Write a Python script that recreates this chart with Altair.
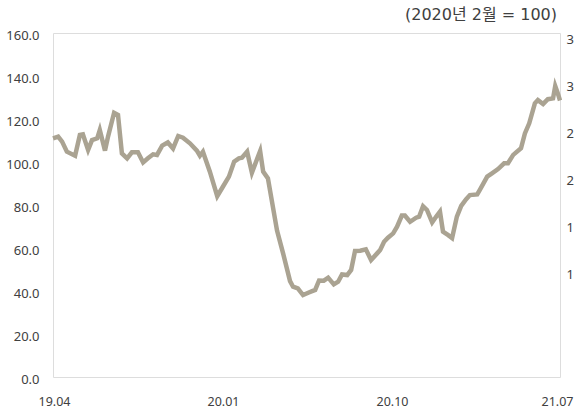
import altair as alt
import pandas as pd

# week index since 2019-04 (0 .. 117 = 2021-07) and index values (2020.02 = 100)
weeks = [0, 1.2, 2.1, 3.2, 5.1, 6.2, 6.9, 8.1, 9.0, 10.2, 10.8, 12.0, 12.7, 14.1, 15.0,
         15.9, 17.1, 18.2, 19.6, 20.8, 21.9, 23.1, 24.0, 25.2, 26.5, 27.7, 28.9, 30.0,
         31.6, 33.2, 33.9, 34.6, 36.2, 37.9, 39.2, 40.6, 41.8, 42.9, 43.6, 44.8, 45.9,
         47.8, 48.5, 49.6, 51.7, 53.1, 54.7, 55.4, 56.5, 57.7, 58.9, 60.5, 61.4, 62.5,
         63.5, 64.8, 65.8, 66.7, 67.9, 68.8, 69.7, 70.9, 72.2, 73.4, 74.8, 75.5, 76.4,
         77.3, 78.5, 79.4, 80.5, 81.2, 82.4, 83.8, 84.5, 85.4, 86.3, 87.5, 88.4, 89.3,
         90.0, 91.2, 92.1, 93.2, 94.2, 95.3, 96.2, 97.9, 98.5, 100.2, 101.3, 102.7,
         104.1, 105.0, 106.2, 108.0, 108.9, 109.9, 111.2, 111.9, 113.1, 114.2, 115.4,
         115.9, 116.5, 117]
values = [111.0, 111.8, 109.5, 104.8, 102.9, 112.6, 112.9, 105.6, 110.2, 111.0, 114.9,
          105.3, 111.8, 122.9, 121.9, 104.0, 101.7, 104.5, 104.5, 99.8, 101.7, 103.6,
          103.3, 107.6, 109.1, 106.3, 112.1, 111.3, 108.7, 105.3, 102.9, 104.8, 95.5,
          84.1, 88.5, 93.2, 100.1, 101.7, 102.0, 104.8, 95.0, 105.1, 95.5, 92.4, 68.1,
          57.5, 44.6, 42.0, 41.2, 38.1, 39.2, 40.5, 44.9, 44.8, 46.2, 43.1, 44.3, 47.7,
          47.4, 49.8, 58.6, 58.7, 59.4, 54.4, 57.5, 59.1, 62.9, 64.8, 66.8, 69.9, 75.1,
          75.1, 72.2, 74.1, 74.6, 79.4, 77.7, 71.9, 74.5, 76.9, 67.6, 66.0, 64.6, 74.6,
          79.6, 82.6, 84.6, 84.9, 87.0, 93.2, 94.7, 96.7, 99.4, 99.4, 103.3, 106.4,
          113.3, 118.0, 127.3, 128.8, 127.0, 129.2, 129.6, 135.3, 131.9, 128.6]

x_tick_weeks = [0, 39, 78, 117]
x_tick_labels = ["19.04", "20.01", "20.10", "21.07"]
left_ticks = [0, 20, 40, 60, 80, 100, 120, 140, 160]
right_ticks = [100, 150, 200, 250, 300, 350]

df = pd.DataFrame({"week": weeks, "value": values})
rdf = pd.DataFrame({"r": right_ticks})

label_expr = ""
for w, lab in zip(x_tick_weeks, x_tick_labels):
    label_expr += f"datum.value == {w} ? '{lab}' : "
label_expr += "''"

FONT = "Noto Sans"
LBL = "#404040"

x_enc = alt.X(
    "week:Q",
    scale=alt.Scale(domain=[0, 117], nice=False, zero=False),
    axis=alt.Axis(values=x_tick_weeks, labelExpr=label_expr, grid=False, ticks=False,
                  domain=False, title=None, labelFlush=False, labelOverlap=False,
                  labelPadding=18, labelFont=FONT, labelFontSize=12.5, labelColor=LBL,
                  labelOffset={"condition": {"test": f"datum.value == {x_tick_weeks[-1]}",
                                             "value": -3}, "value": 1}),
)

line = alt.Chart(df).mark_line(color="#AAA392", strokeWidth=4.5).encode(
    x=x_enc,
    y=alt.Y("value:Q", scale=alt.Scale(domain=[0, 160], nice=False),
            axis=alt.Axis(values=left_ticks, format=".1f", grid=False, ticks=False,
                          domain=False, title=None, labelPadding=14, labelOffset=2,
                          labelFont=FONT, labelFontSize=13, labelColor=LBL)),
)

right = alt.Chart(rdf).mark_point(opacity=0).encode(
    y=alt.Y("r:Q", scale=alt.Scale(domain=[-13.3, 352.7], nice=False, zero=False),
            axis=alt.Axis(values=right_ticks, orient="right", grid=False, ticks=False,
                          domain=False, title=None, labelPadding=6, labelOffset=4,
                          labelExpr="substring(datum.label, 0, 1)",
                          labelFont=FONT, labelFontSize=13, labelColor=LBL)),
)

chart = alt.layer(line, right).resolve_scale(y="independent").properties(
    width=507,
    height=344,
    autosize=alt.AutoSizeParams(type="none"),
    padding={"left": 53, "top": 33, "right": 14, "bottom": 34},
    title=alt.TitleParams("(2020년 2월 = 100)", anchor="end", frame="group",
                          font="DejaVu Sans, Noto Sans CJK KR", fontSize=16,
                          fontWeight="normal", color="#404040", offset=6, dx=-3),
).configure_view(stroke="#8a8a8a", strokeWidth=1).configure(background="white")

chart.save("out.html", embed_options={"renderer": "svg", "actions": False})
